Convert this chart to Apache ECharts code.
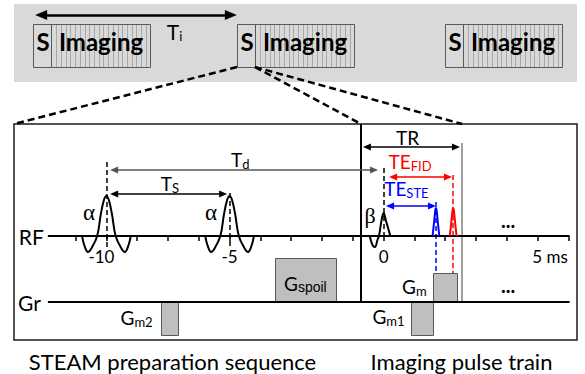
<!DOCTYPE html>
<html><head><meta charset="utf-8">
<script src="https://cdn.jsdelivr.net/npm/echarts@6/dist/echarts.min.js"></script>
<style>html,body{margin:0;padding:0;background:#fff}#c{width:585px;height:374px}</style>
</head><body><div id="c"></div>
<script>
// ================= DATA =================
// Top band: repeated STEAM (S) + imaging blocks, start times in units of Ti
const blockStarts = [0, 1.0, 2.02];
const satWidth = 0.088;
const imgWidth = 0.485;
const tiArrow = [0.04, 0.97];

// Bottom: schematic time axis (tick units)
const tickValues = [-10, -9, -8, -7, -6, -5, -4, -3, -2, -1, 0, 1, 2, 3, 4, 5, 6];
const tickLabelValues = [-9, -5, 0, 5];
const tickLabelTexts = ['-10', '-5', '0', '5 ms'];

// RF events
const alphaTimes = [-9, -5];
const betaTime = 0;
const steEchoTime = 1.70;
const fidEchoTime = 2.26;
// pulse envelopes: [time offset, amplitude]
const alphaShape = [[-0.79, 0], [-0.72, -9], [-0.6, -16], [-0.48, -12], [-0.3, 0], [-0.18, 22], [-0.08, 36], [0, 40], [0.08, 36], [0.18, 22], [0.3, 0], [0.48, -12], [0.6, -16], [0.72, -9], [0.79, 0]];
const betaShape = [[-0.45, 0], [-0.36, -9], [-0.28, -11], [-0.2, -4], [-0.15, 0], [-0.07, 15], [0, 23], [0.08, 15], [0.22, 0]];
const echoShape = [[-0.11, 0], [-0.06, 14], [-0.02, 26], [0, 28], [0.02, 26], [0.06, 14], [0.11, 0]];

// Gradient lobes on the Gr line: name, start, end, amplitude
const gradNames = ['G{s|m2}', 'G{sp|spoil}', 'G{s|m1}', 'G{s|m}'];
const gradStart = [-7.22, -3.52, 0.89, 1.61];
const gradEnd = [-6.67, -1.54, 1.61, 2.39];
const gradAmp = [-33, 44, -33, 29];

// Timing intervals (arrows)
const trStart = -0.73, trEnd = 2.55;
const intervalStart = [-8.75, -8.75, -0.54, 0.31, 0.21];
const intervalEnd = [-0.31, -5.21, 2.35, 2.09, 1.57];
const intervalLevel = [66, 42, 89, 59, 30];

// ================= LAYOUT / STYLE =================
const FONT = 'Lato, "Open Sans", sans-serif';
const SERIF = '"Liberation Serif", "DejaVu Serif", serif';
const RF0 = 0, GR0 = -66;
const X_MIN = -12, X_MAX = 6.28, Y_MIN = -104, Y_MAX = 112;
const BASE_FROM = -10.9, BASE_TO = 6.04;
const RED = '#ff0000', BLUE = '#0000ff';

const rich = {
  s: {fontSize: 13, fontFamily: FONT, verticalAlign: 'bottom', lineHeight: 12},
  sp: {fontSize: 14, fontFamily: '"Liberation Sans", Arial, sans-serif', verticalAlign: 'bottom', lineHeight: 13}
};

function pulse(shape, t0, base) { return shape.map(p => [t0 + p[0], base + p[1]]); }

function textSeries(gi, items) {
  return {
    type: 'custom', coordinateSystem: 'cartesian2d', xAxisIndex: gi, yAxisIndex: gi, silent: true, z: 20, clip: false,
    data: items.map((it, i) => [it.x, it.y, i]),
    renderItem: (params, api) => {
      const it = items[api.value(2)];
      const p = api.coord([api.value(0), api.value(1)]);
      return {type: 'text', x: p[0], y: p[1], style: {
        text: it.t, fill: it.c || '#000', fontSize: it.fs || 19, fontFamily: it.ff || FONT,
        fontWeight: it.fw || 'normal', align: 'center', verticalAlign: 'middle', lineHeight: 22, rich: rich
      }};
    }
  };
}

function segs(color, list, width, dash, symbol, symSize) {
  return {
    type: 'line', xAxisIndex: 1, yAxisIndex: 1, data: [], silent: true, z: 5,
    markLine: {
      silent: true, animation: false, symbol: symbol || 'none', symbolSize: symSize || 8,
      label: {show: false}, emphasis: {disabled: true},
      lineStyle: {color: color, width: width, type: dash || 'solid'},
      data: list.map(s => [{coord: [s[0], s[1]]}, {coord: [s[2], s[3]]}])
    }
  };
}

function lineSeries(data, color, width, smooth) {
  return {type: 'line', xAxisIndex: 1, yAxisIndex: 1, data: data, showSymbol: false, symbol: 'none', smooth: smooth || 0,
    silent: true, z: 6, lineStyle: {color: color, width: width}};
}

const chart = echarts.init(document.getElementById('c'), null, {renderer: 'svg'});

const mainLabels = [
  {t: 'RF', x: -11.44, y: 0, fs: 21},
  {t: 'Gr', x: -11.5, y: -66, fs: 21},
  {t: 'α', x: -9.56, y: 23.5, fs: 23, ff: SERIF},
  {t: 'α', x: -5.6, y: 23.5, fs: 23, ff: SERIF},
  {t: 'β', x: -0.44, y: 21, fs: 22, ff: SERIF},
  {t: 'T{s|d}', x: -4.65, y: 77},
  {t: 'T{s|S}', x: -6.94, y: 53},
  {t: 'TR', x: 0.78, y: 99},
  {t: 'TE{s|FID}', x: 0.86, y: 74.5, c: RED},
  {t: 'TE{s|STE}', x: 0.74, y: 47.5, c: BLUE},
  {t: gradNames[1], x: -2.54, y: -47},
  {t: gradNames[3], x: 1.0, y: -50.5},
  {t: gradNames[2], x: 0.16, y: -80.5},
  {t: gradNames[0], x: -8.02, y: -81},
  {t: '...', x: 4.04, y: 16, fs: 20, fw: 'bold'},
  {t: '...', x: 4.04, y: -49, fs: 20, fw: 'bold'}
];

const option = {
  animation: false,
  backgroundColor: '#ffffff',
  grid: [
    {left: 14, top: 4, width: 563, height: 78, show: true, backgroundColor: '#d9d9d9', borderWidth: 0},
    {left: 14, top: 124, width: 563, height: 216, show: true, backgroundColor: 'transparent', borderColor: '#1a1a1a', borderWidth: 1.5}
  ],
  xAxis: [
    {gridIndex: 0, type: 'value', min: -0.0931, max: 2.667, show: false},
    {gridIndex: 1, type: 'value', min: X_MIN, max: X_MAX, show: true, position: 'bottom', offset: -(RF0 - Y_MIN),
      axisLine: {show: false, onZero: false},
      splitLine: {show: false},
      axisTick: {show: true, customValues: tickValues, length: 5, lineStyle: {color: '#000', width: 1.5}},
      axisLabel: {show: true, customValues: tickLabelValues, margin: 12, fontSize: 17, fontFamily: FONT, color: '#000',
        formatter: v => {
          const i = tickLabelValues.indexOf(v);
          if (i < 0) return '';
          const key = ['a', 'b', 'b', 'c'][i];
          return '{' + key + '|' + tickLabelTexts[i] + '}';
        },
        rich: {
          a: {fontSize: 17, fontFamily: FONT, color: '#000', padding: [0, 10, 0, 0]},
          b: {fontSize: 17, fontFamily: FONT, color: '#000'},
          c: {fontSize: 17, fontFamily: FONT, color: '#000', padding: [0, 0, 0, 25]}
        }
      }}
  ],
  yAxis: [
    {gridIndex: 0, type: 'value', min: 0, max: 78, show: false},
    {gridIndex: 1, type: 'value', min: Y_MIN, max: Y_MAX, show: false}
  ],
  series: [
    // imaging blocks
    {
      type: 'custom', coordinateSystem: 'cartesian2d', xAxisIndex: 0, yAxisIndex: 0, silent: true, z: 3,
      data: blockStarts.map(s => [s, s + satWidth, s + satWidth + imgWidth]),
      renderItem: (params, api) => {
        const a = api.coord([api.value(0), 58]);
        const b = api.coord([api.value(1), 15]);
        const c = api.coord([api.value(2), 15]);
        const x0 = Math.round(a[0]) + 0.5, x1 = Math.round(b[0]) + 0.5, x2 = Math.round(c[0]) + 0.5;
        const y0 = Math.round(a[1]) + 0.5, y1 = Math.round(b[1]) + 0.5;
        const ch = [];
        const n = 20;
        for (let k = 1; k <= n; k++) {
          const x = Math.round(x1 + (x2 - x1) * k / (n + 1)) + 0.5;
          ch.push({type: 'line', shape: {x1: x, y1: y0, x2: x, y2: y1}, style: {stroke: '#a8a8a8', lineWidth: 1}});
        }
        ch.push({type: 'rect', shape: {x: x0, y: y0, width: x2 - x0, height: y1 - y0}, style: {fill: 'none', stroke: '#595959', lineWidth: 1}});
        ch.push({type: 'line', shape: {x1: x1, y1: y0, x2: x1, y2: y1}, style: {stroke: '#595959', lineWidth: 1}});
        const ym = (y0 + y1) / 2 - 5;
        ch.push({type: 'text', x: (x0 + x1) / 2 + 0.5, y: ym, style: {text: 'S', fontSize: 24, fontWeight: 'bold', fontFamily: FONT, fill: '#000', align: 'center', verticalAlign: 'middle'}});
        ch.push({type: 'text', x: (x1 + x2) / 2, y: ym, style: {text: 'Imaging', fontSize: 24, fontWeight: 'bold', fontFamily: FONT, fill: '#000', align: 'center', verticalAlign: 'middle'}});
        return {type: 'group', children: ch};
      }
    },
    // Ti arrow
    {
      type: 'line', xAxisIndex: 0, yAxisIndex: 0, data: [], silent: true,
      markLine: {silent: true, animation: false, symbol: ['triangle', 'triangle'], symbolSize: [10, 12],
        label: {show: false}, emphasis: {disabled: true}, lineStyle: {color: '#000', width: 2.5, type: 'solid'},
        data: [[{coord: [tiArrow[0], 67]}, {coord: [tiArrow[1], 67]}]]}
    },
    textSeries(0, [{t: 'T{s|i}', x: 0.694, y: 51, fs: 21}]),
    // gradient lobes
    {
      type: 'custom', coordinateSystem: 'cartesian2d', xAxisIndex: 1, yAxisIndex: 1, silent: true, z: 4,
      data: gradStart.map((s, i) => [s, gradEnd[i], GR0, GR0 + gradAmp[i]]),
      renderItem: (params, api) => {
        const p0 = api.coord([api.value(0), Math.max(api.value(2), api.value(3))]);
        const p1 = api.coord([api.value(1), Math.min(api.value(2), api.value(3))]);
        return {type: 'rect', shape: {x: Math.round(p0[0]) + 0.5, y: Math.round(p0[1]) + 0.5, width: Math.round(p1[0] - p0[0]), height: Math.round(p1[1] - p0[1])},
          style: {fill: '#bfbfbf', stroke: '#595959', lineWidth: 1}};
      }
    },
    // baselines
    lineSeries([[BASE_FROM, RF0], [BASE_TO, RF0]], '#000', 2),
    lineSeries([[BASE_FROM, GR0], [BASE_TO, GR0]], '#000', 2),
    // RF pulses
    lineSeries(pulse(alphaShape, alphaTimes[0], RF0), '#000', 2, 0.4),
    lineSeries(pulse(alphaShape, alphaTimes[1], RF0), '#000', 2, 0.4),
    lineSeries(pulse(betaShape, betaTime, RF0), '#000', 2, 0.4),
    lineSeries(pulse(echoShape, steEchoTime, RF0), BLUE, 2, 0.3),
    lineSeries(pulse(echoShape, fidEchoTime, RF0), RED, 2, 0.3),
    // solid verticals: TR boundaries
    segs('#000', [[trStart, Y_MAX, trStart, GR0]], 2),
    segs('#808080', [[trEnd, 93, trEnd, GR0]], 1.5),
    // dashed guides
    segs('#000', [[alphaTimes[0], 74, alphaTimes[0], -12], [alphaTimes[1], 43, alphaTimes[1], -12], [betaTime, 68, betaTime, 0]], 1.5, [5, 3]),
    segs(BLUE, [[steEchoTime, 34, steEchoTime, GR0 + gradAmp[3]]], 1.5, [5, 3]),
    segs(RED, [[fidEchoTime, 61, fidEchoTime, GR0 + gradAmp[3]]], 1.5, [5, 3]),
    // interval arrows
    segs('#555555', [[intervalStart[0], intervalLevel[0], intervalEnd[0], intervalLevel[0]]], 1.5, 'solid', ['triangle', 'triangle'], [7, 8]),
    segs('#000', [[intervalStart[1], intervalLevel[1], intervalEnd[1], intervalLevel[1]], [intervalStart[2], intervalLevel[2], intervalEnd[2], intervalLevel[2]]], 1.5, 'solid', ['triangle', 'triangle'], [7, 8]),
    segs(RED, [[intervalStart[3], intervalLevel[3], intervalEnd[3], intervalLevel[3]]], 1.5, 'solid', ['triangle', 'triangle'], [7, 8]),
    segs(BLUE, [[intervalStart[4], intervalLevel[4], intervalEnd[4], intervalLevel[4]]], 1.5, 'solid', ['triangle', 'triangle'], [7, 8]),
    textSeries(1, mainLabels)
  ]
};
chart.setOption(option);

// zoom connectors (derived from block 2 and the TR window) + captions
const sL = chart.convertToPixel({gridIndex: 0}, [blockStarts[1], 15]);
const sR = chart.convertToPixel({gridIndex: 0}, [blockStarts[1] + satWidth, 15]);
const bL = chart.convertToPixel({gridIndex: 1}, [X_MIN, Y_MAX]);
const b1 = chart.convertToPixel({gridIndex: 1}, [trStart, Y_MAX]);
const b2 = chart.convertToPixel({gridIndex: 1}, [trEnd, Y_MAX]);
const dl = (a, b) => ({type: 'line', silent: true, z: 50, shape: {x1: a[0], y1: a[1], x2: b[0], y2: b[1]}, style: {stroke: '#000', lineWidth: 2.5, lineDash: [7, 4]}});
const capY = chart.convertToPixel({gridIndex: 1}, [0, Y_MIN])[1] + 21;
const cap = (x, t) => ({type: 'text', x: x, y: capY, silent: true, style: {text: t, font: '22px ' + FONT, fill: '#000', align: 'center', verticalAlign: 'middle', textAlign: 'center', textVerticalAlign: 'middle'}});
chart.setOption({graphic: [dl(sL, bL), dl(sR, b1), dl(sR, b2),
  cap(172.5, 'STEAM preparation sequence'), cap(461.5, 'Imaging pulse train')]});
</script>
</body></html>
